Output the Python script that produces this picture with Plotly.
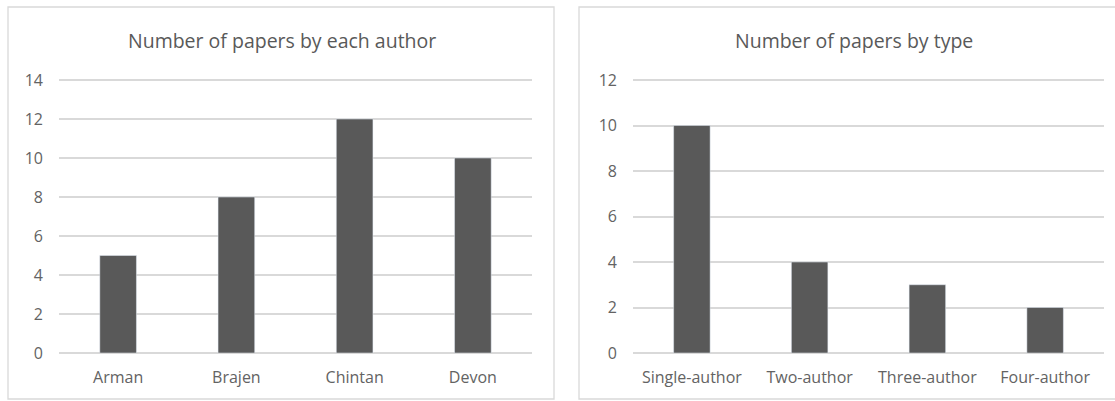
import plotly.graph_objects as go

authors = ["Arman", "Brajen", "Chintan", "Devon"]
papers_by_author = [5, 8, 12, 10]
types = ["Single-author", "Two-author", "Three-author", "Four-author"]
papers_by_type = [10, 4, 3, 2]
left_title = "Number of papers by each author"
right_title = "Number of papers by type"

W, H = 1115, 401
def px(x): return x / W
def py(y): return 1 - y / H

BAR = "#595959"
GRID = "#d9d9d9"
TXT = "#595959"
TICK = "#636363"
FONT = "Open Sans"

fig = go.Figure()
fig.add_trace(go.Bar(x=authors, y=papers_by_author, marker_color=BAR, xaxis="x", yaxis="y",
                     hoverinfo="x+y"))
fig.add_trace(go.Bar(x=types, y=papers_by_type, marker_color=BAR, xaxis="x2", yaxis="y2",
                     hoverinfo="x+y"))

# plot area extends a few pixels above the top gridline so that it is drawn
grid_top, grid_bot, extra = 80, 353, 4
ydom = [py(grid_bot), py(grid_top - extra)]
upp_l = 14 / (grid_bot - grid_top)
upp_r = 12 / (grid_bot - grid_top)
common_x = dict(showgrid=False, zeroline=False, showline=False, ticks="", automargin=False,
                tickfont=dict(size=16, color=TICK, family=FONT), ticklabelstandoff=13, fixedrange=True)
common_y = dict(showgrid=True, gridcolor=GRID, gridwidth=1.5, zeroline=True, zerolinecolor=GRID,
                zerolinewidth=1.5, showline=False, ticks="", automargin=False,
                tickfont=dict(size=16, color=TICK, family=FONT), ticklabelstandoff=15, fixedrange=True)

fig.update_layout(
    width=W, height=H,
    margin=dict(l=0, r=0, t=0, b=0, pad=0, autoexpand=False),
    paper_bgcolor="white", plot_bgcolor="white",
    showlegend=False,
    bargap=0.69,
    font=dict(family=FONT, color=TXT),
    xaxis=dict(domain=[px(59), px(532)], anchor="y", **common_x),
    yaxis=dict(domain=ydom, anchor="x", range=[0, 14 + extra * upp_l], tickvals=[0, 2, 4, 6, 8, 10, 12, 14], **common_y),
    xaxis2=dict(domain=[px(633), px(1104)], anchor="y2", **common_x),
    yaxis2=dict(domain=ydom, anchor="x2", range=[0, 12 + extra * upp_r], tickvals=[0, 2, 4, 6, 8, 10, 12], **common_y),
    shapes=[
        dict(type="rect", xref="paper", yref="paper", x0=px(8), x1=px(554), y0=py(399), y1=py(7),
             line=dict(color=GRID, width=1.3), fillcolor="rgba(0,0,0,0)", layer="below"),
        dict(type="rect", xref="paper", yref="paper", x0=px(579), x1=px(1125), y0=py(399), y1=py(7),
             line=dict(color=GRID, width=1.3), fillcolor="rgba(0,0,0,0)", layer="below"),
    ],
    annotations=[
        dict(text=left_title, xref="paper", yref="paper", x=px(282), y=py(40), showarrow=False,
             xanchor="center", yanchor="middle", font=dict(size=19.5, color=TXT, family=FONT)),
        dict(text=right_title, xref="paper", yref="paper", x=px(854), y=py(40), showarrow=False,
             xanchor="center", yanchor="middle", font=dict(size=19.5, color=TXT, family=FONT)),
    ],
)

fig.write_html("out.html", config={"displayModeBar": False},
               post_script="document.body.style.margin='0';document.body.style.overflow='hidden';")
